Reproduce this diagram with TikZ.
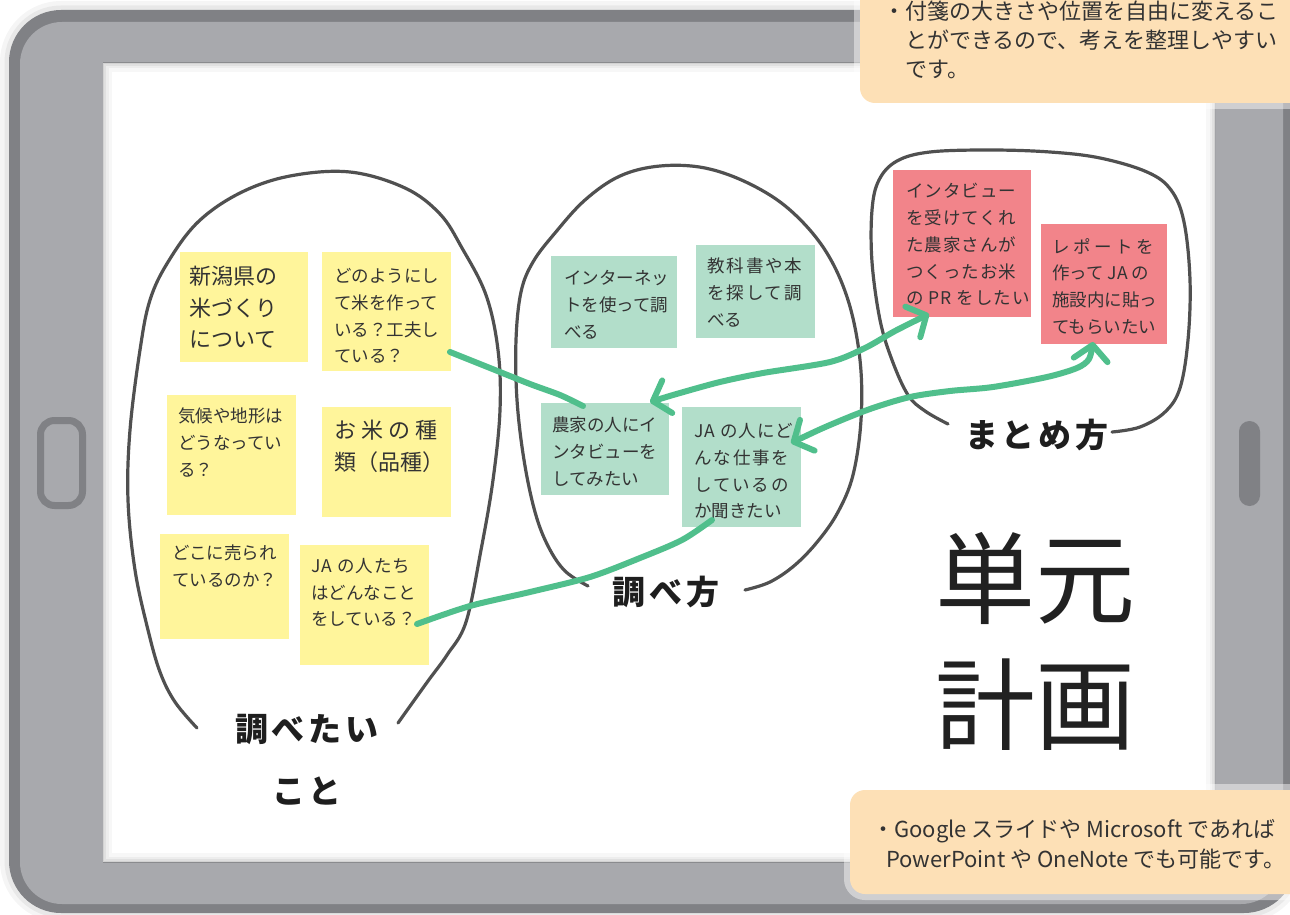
\documentclass[tikz,border=0pt]{standalone}
\usepackage{fontspec}
\setmainfont{Noto Sans CJK JP}
\newfontfamily\lsS[LetterSpace=6]{Noto Sans CJK JP}
\newfontfamily\lsM[LetterSpace=11]{Noto Sans CJK JP}
\newfontfamily\lsL[LetterSpace=20]{Noto Sans CJK JP}
\newfontfamily\hand[LetterSpace=12]{Noto Sans CJK JP}
\usetikzlibrary{arrows.meta,calc}
\definecolor{frameD}{HTML}{808185}
\definecolor{frameL}{HTML}{A8A9AD}
\definecolor{peach}{HTML}{FDE0B6}
\definecolor{ynote}{HTML}{FFF59B}
\definecolor{gnote}{HTML}{B2DECA}
\definecolor{rnote}{HTML}{F2848A}
\definecolor{arrowG}{HTML}{50BF8C}
\definecolor{ink}{HTML}{333333}
\definecolor{blobc}{HTML}{505050}
\definecolor{handc}{HTML}{1E1E1E}
\tikzset{
  blob/.style={draw=blobc,line width=3.2pt,line cap=round,line join=round},
  garrow/.style={draw=arrowG,line width=6pt,line cap=round,line join=round},
  barbs/.style={{Straight Barb[length=15pt,width=34pt,round]}-{Straight Barb[length=15pt,width=34pt,round]}},
  notebg/.style={anchor=north west,inner sep=0pt,outer sep=0pt},
  yelnote/.style={notebg,fill=ynote},
  grnnote/.style={notebg,fill=gnote},
  pinknote/.style={notebg,fill=rnote},
  ntxt/.style={anchor=north west,inner sep=0pt,align=left,text=ink,font=\fontsize{17.5}{26.8}\selectfont},
  ntxtbig/.style={anchor=north west,inner sep=0pt,align=left,text=ink,font=\fontsize{22}{31.5}\selectfont},
  calltxt/.style={anchor=north west,inner sep=0pt,align=left,text=ink},
  handtxt/.style={inner sep=0pt,text=handc,font=\hand\bfseries\fontsize{33}{40}\selectfont},
  bigtxt/.style={inner sep=0pt,text=black!87,font=\fontsize{100}{120}\selectfont},
}
\begin{document}
\begin{tikzpicture}[x=1pt,y=-1pt]
\useasboundingbox (0,0) rectangle (1290,915);
\clip (0,0) rectangle (1290,915);
\fill[white] (0,0) rectangle (1290,915);
% frame halo
\draw[black,opacity=0.04,line width=18pt,rounded corners=52pt] (9,10) rectangle (1296,913);
\draw[black,opacity=0.05,line width=9pt,rounded corners=52pt] (9,10) rectangle (1296,913);
% tablet frame
\fill[frameD,rounded corners=52pt] (9,10) rectangle (1296,913);
\fill[frameL,rounded corners=42pt] (20,22) rectangle (1283,904);
% screen
\fill[white] (103,63) rectangle (1215,862);
\begin{scope}
\clip (103,63) rectangle (1215,862);
\draw[black,opacity=0.03,line width=18pt] (103,63) rectangle (1215,862);
\draw[black,opacity=0.04,line width=11pt] (103,63) rectangle (1215,862);
\draw[black,opacity=0.05,line width=6pt] (103,63) rectangle (1215,862);
\draw[black,opacity=0.06,line width=2.5pt] (103,63) rectangle (1215,862);
\end{scope}
% buttons
\draw[frameD,line width=7pt,rounded corners=14pt] (40.5,420.5) rectangle (82.5,505.5);
\fill[frameD,rounded corners=10.5pt] (1239,421) rectangle (1260,506);
% hand-drawn loops
\draw[blob] plot[smooth,tension=0.6] coordinates {(197,728) (175,702) (160,672) (148,630) (135,570) (128,500) (130,430) (140,350) (150,300) (168,262) (198,222) (240,193) (290,176) (350,172) (405,188) (440,214) (462,248) (486,295) (498,350) (500,410) (493,480) (481,550) (466,622) (447,655) (428,681) (398,723)};
\draw[blob] plot[smooth,tension=0.6] coordinates {(588,586) (565,571) (548,546) (535,512) (524,460) (517,400) (516,340) (521,292) (533,262) (555,233) (585,200) (620,176) (660,166) (705,168) (750,184) (790,210) (825,250) (848,300) (860,360) (861,420) (853,475) (838,512) (818,541) (795,565) (770,582) (745,590)};
\draw[blob] plot[smooth,tension=0.6] coordinates {(948,424) (925,411) (908,395) (892,360) (880,320) (872,262) (872,210) (879,180) (897,161) (930,152) (990,150) (1050,152) (1100,158) (1147,172) (1171,190) (1184,222) (1190,280) (1188,340) (1180,388) (1165,412) (1140,427) (1112,432)};
% yellow notes
\node[yelnote,minimum width=128pt,minimum height=110pt] (y1) at (180,252) {};
\node[yelnote,minimum width=129pt,minimum height=119pt] (y2) at (322,252) {};
\node[yelnote,minimum width=129pt,minimum height=120pt] (y3) at (167,395) {};
\node[yelnote,minimum width=129pt,minimum height=110pt] (y4) at (322,407) {};
\node[yelnote,minimum width=129pt,minimum height=105pt] (y5) at (160,534) {};
\node[yelnote,minimum width=129pt,minimum height=120pt] (y6) at (300,545) {};
% green notes
\node[grnnote,minimum width=126pt,minimum height=92pt] (g1) at (551,256) {};
\node[grnnote,minimum width=119pt,minimum height=93pt] (g2) at (696,245) {};
\node[grnnote,minimum width=128pt,minimum height=92pt] (g3) at (541,403) {};
\node[grnnote,minimum width=119pt,minimum height=120pt] (g4) at (682,407) {};
% pink notes
\node[pinknote,minimum width=138pt,minimum height=147pt] (r1) at (893,170) {};
\node[pinknote,minimum width=126pt,minimum height=120pt] (r2) at (1041,224) {};
% note texts
\node[ntxtbig] (y1t) at (189,266) {新潟県の\\米づくり\\について};
\node[ntxt] (y2t) at (334,268) {どのようにし\\て米を作って\\いる？工夫し\\ている？};
\node[ntxt] (y3t) at (178,408) {気候や地形は\\どうなってい\\る？};
\node[ntxtbig,font=\fontsize{22}{32}\selectfont] (y4t) at (334,420) {お\hspace{5pt}米\hspace{5pt}の\hspace{5pt}種\\類（品種）};
\node[ntxt] (y5t) at (172,545) {どこに売られ\\ているのか？};
\node[ntxt] (y6t) at (311,558) {{\lsS JA の人たち}\\はどんなこと\\をしている？};
\node[ntxt] (g1t) at (564,270) {インターネッ\\トを使って調\\べる};
\node[ntxt] (g2t) at (707,258) {{\lsM 教科書や本}\\{\lsM を探して調}\\べる};
\node[ntxt] (g3t) at (552,417) {農家の人にイ\\ンタビューを\\してみたい};
\node[ntxt] (g4t) at (694,423) {{\lsS JA の人にど}\\{\lsM んな仕事を}\\{\lsM しているの}\\か聞きたい};
\node[ntxt] (r1t) at (906,183) {{\lsS インタビュー}\\{\lsS を受けてくれ}\\{\lsS た農家さんが}\\{\lsS つくったお米}\\{\lsS の PR をしたい}};
\node[ntxt] (r2t) at (1052,238) {{\lsL レポートを}\\作って JA の\\施設内に貼っ\\てもらいたい};
% green connectors
\draw[garrow] plot[smooth] coordinates {($(y2.south east)+(-1,-19)$) (490,368) (530,384) (560,395) ($(g3.north west)+(42,3)$)};
\draw[garrow,barbs] plot[smooth] coordinates {($(g3.north east)+(-19,-1)$) (680,393) (720,382) (763,373) (830,362) (865,348) (895,331) ($(r1.south west)+(36,-3)$)};
\draw[garrow,barbs] plot[smooth] coordinates {($(g4.north east)+(-10,36)$) (830,425) (870,409) (910,397) (950,391) (993,387) (1047,377) (1077,368) (1089,359) ($(r2.south west)+(52,-2)$)};
\draw[garrow] plot[smooth] coordinates {($(y6.north east)+(-12,79)$) (470,606) (530,592) (590,577) (640,558) (682,540) ($(g4.south west)+(30,-7)$)};
% hand labels
\node[handtxt] (lab1) at (307,729) {調べたい};
\node[handtxt] (lab1b) at (307,791) {こと};
\node[handtxt] (lab2) at (666,592) {調べ方};
\node[handtxt] (lab3) at (1037,435) {まとめ方};
% big title
\node[bigtxt] (big1) at (1035,578) {単元};
\node[bigtxt] (big2) at (1035,705) {計画};
% callouts
\draw[white,opacity=0.45,line width=12pt,rounded corners=15pt] (860,-30) rectangle (1320,103);
\fill[peach,rounded corners=15pt] (860,-30) rectangle (1320,103);
\node[calltxt,font=\fontsize{22}{29}\selectfont] (c1) at (905,1) {\llap{・}付箋の大きさや位置を自由に変えるこ\\とができるので、考えを整理しやすい\\です。};
\draw[white,opacity=0.45,line width=12pt,rounded corners=15pt] (850,790) rectangle (1320,894);
\fill[peach,rounded corners=15pt] (850,790) rectangle (1320,894);
\node[calltxt,font=\fontsize{22}{30}\selectfont] (c2) at (894,819) {\llap{・}Google スライドや Microsoft であれば\\\hspace*{-8pt}PowerPoint や OneNote でも可能です。};
\end{tikzpicture}
\end{document}
